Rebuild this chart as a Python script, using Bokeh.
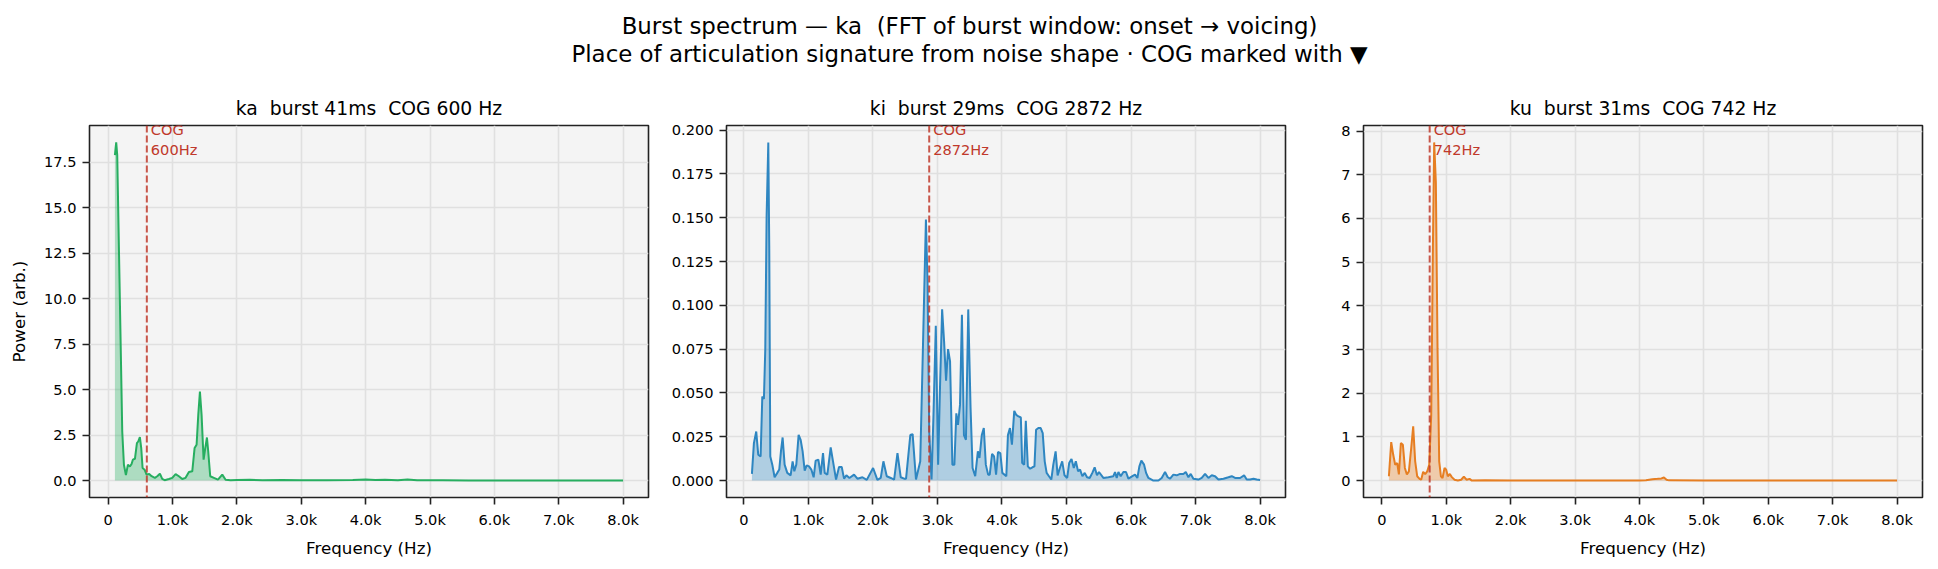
from bokeh.plotting import figure
from bokeh.layouts import column, row
from bokeh.models import Range1d, FixedTicker, PrintfTickFormatter, Span
from bokeh.core.properties import value
from bokeh.embed import file_html
from bokeh.resources import INLINE

# ---------------------------------------------------------------- data
# (no-break spaces keep the double gaps visible in SVG text)
SUPTITLE = [
    "Burst spectrum \u2014 ka\u00a0 (FFT of burst window: onset \u2192 voicing)",
    "Place of articulation signature from noise shape \u00b7 COG marked with \u25bc",
]

SYLLABLES = ["ka", "ki", "ku"]
BURST_MS = [41, 29, 31]
COG_HZ = [600, 2872, 742]

KA_FREQ = [104, 124, 140, 176, 218, 244, 275, 306, 337, 363, 383, 415, 446, 466, 492,
           513, 534, 565, 596, 637, 674, 725, 762, 803, 839, 876, 943, 995, 1047, 1098,
           1150, 1202, 1254, 1306, 1342, 1373, 1399, 1425, 1451, 1482, 1508, 1534, 1554,
           1585, 1642, 1705, 1772, 1824, 1902, 2000, 2200, 2400, 2700, 3000, 3400, 3800,
           4000, 4150, 4300, 4500, 4650, 4800, 5200, 5600, 6000, 6500, 7000, 7500, 8000]
KA_POWER = [17.9, 18.6, 17.9, 10.9, 2.7, 0.87, 0.3, 0.87, 0.78, 0.91, 1.15, 1.2, 2.06, 2.15,
            2.39, 1.79, 0.69, 0.6, 0.33, 0.36, 0.24, 0.15, 0.24, 0.38, 0.09, 0.02, 0.09,
            0.15, 0.36, 0.24, 0.09, 0.15, 0.47, 0.51, 1.79, 1.97, 3.6, 4.89, 3.6, 1.15,
            1.79, 2.37, 1.6, 0.24, 0.15, 0.05, 0.33, 0.05, 0.02, 0.03, 0.04, 0.02, 0.03,
            0.02, 0.02, 0.03, 0.06, 0.03, 0.05, 0.02, 0.06, 0.02, 0.02, 0.01, 0.01, 0.01,
            0.01, 0.01, 0.01]

KI_FREQ = [124, 155, 191, 222, 259, 285, 310, 331, 352, 378, 393, 409, 440, 476, 517, 548,
           574, 600, 631, 672, 724, 755, 781, 812, 848, 879, 910, 942, 973, 1009, 1045,
           1081, 1112, 1154, 1190, 1226, 1252, 1293, 1345, 1381, 1428, 1474, 1516, 1552,
           1588, 1635, 1707, 1759, 1837, 1904, 2002, 2069, 2121, 2162, 2214, 2276, 2328,
           2380, 2431, 2483, 2513, 2579, 2615, 2667, 2733, 2774, 2821, 2846, 2872, 2908,
           2938, 2974, 3010, 3041, 3072, 3103, 3133, 3164, 3195, 3231, 3262, 3292, 3318,
           3349, 3379, 3410, 3441, 3477, 3513, 3544, 3585, 3626, 3651, 3687, 3718, 3749,
           3785, 3810, 3846, 3877, 3908, 3938, 3974, 4005, 4067, 4092, 4123, 4154, 4190,
           4221, 4256, 4292, 4313, 4344, 4369, 4400, 4436, 4472, 4503, 4528, 4564, 4600,
           4631, 4662, 4692, 4728, 4764, 4795, 4831, 4862, 4897, 4933, 4969, 5010, 5041,
           5077, 5113, 5144, 5179, 5210, 5246, 5282, 5318, 5359, 5400, 5436, 5472, 5503,
           5571, 5649, 5726, 5752, 5778, 5804, 5840, 5881, 5922, 5959, 6021, 6062, 6098,
           6129, 6160, 6202, 6233, 6269, 6346, 6424, 6475, 6527, 6568, 6605, 6656, 6708,
           6760, 6811, 6848, 6889, 6925, 6966, 7044, 7096, 7147, 7199, 7251, 7302, 7354,
           7432, 7509, 7561, 7612, 7690, 7752, 7793, 7845, 7897, 7948, 8000]
KI_POWER = [0.0038, 0.0214, 0.028, 0.0148, 0.0138, 0.048, 0.0466, 0.075, 0.151, 0.193,
            0.132, 0.0138, 0.0091, 0.0019, 0.0044, 0.0063, 0.0167, 0.0246, 0.0091, 0.0044,
            0.003, 0.011, 0.0053, 0.0091, 0.0261, 0.0233, 0.0167, 0.0057, 0.0087, 0.0081,
            0.0063, 0.0019, 0.0114, 0.0119, 0.0034, 0.0157, 0.0044, 0.0034, 0.0189, 0.011,
            0.0006, 0.0078, 0.0078, 0.0011, 0.003, 0.0015, 0.0034, 0.0011, 0.0019, 0.0004,
            0.0072, 0.0004, 0.0015, 0.011, 0.0025, 0.0015, 0.0006, 0.0157, 0.0019, 0.0011,
            0.0011, 0.026, 0.0265, 0.0006, 0.011, 0.075, 0.149, 0.113, 0.028, 0.0006,
            0.0375, 0.0883, 0.0091, 0.056, 0.0977, 0.079, 0.057, 0.075, 0.068, 0.0091,
            0.0091, 0.0384, 0.0318, 0.0432, 0.0947, 0.026, 0.0233, 0.0977, 0.0413, 0.0072,
            0.0025, 0.0167, 0.0129, 0.026, 0.03, 0.0091, 0.0034, 0.0034, 0.0153, 0.0138,
            0.0034, 0.0163, 0.0157, 0.0044, 0.0025, 0.026, 0.03, 0.0205, 0.0398, 0.0375,
            0.0366, 0.036, 0.01, 0.0091, 0.0341, 0.0081, 0.0068, 0.0076, 0.0081, 0.029,
            0.03, 0.03, 0.0271, 0.011, 0.0044, 0.0025, 0.0006, 0.0091, 0.0167, 0.003,
            0.0072, 0.011, 0.003, 0.0015, 0.01, 0.0123, 0.0072, 0.011, 0.0053, 0.0063,
            0.0025, 0.0044, 0.0019, 0.0015, 0.0044, 0.0076, 0.003, 0.0049, 0.0015, 0.0019,
            0.0025, 0.0049, 0.0015, 0.0049, 0.0025, 0.0049, 0.0049, 0.0011, 0.0025, 0.0034,
            0.0015, 0.0081, 0.0114, 0.0091, 0.0044, 0.0015, 0.0, 0.0, 0.0015, 0.0049,
            0.0019, 0.0011, 0.0034, 0.003, 0.0038, 0.0038, 0.0049, 0.0019, 0.0038, 0.0011,
            0.0006, 0.0015, 0.0038, 0.0015, 0.003, 0.0025, 0.0006, 0.0011, 0.0019, 0.0025,
            0.0015, 0.0015, 0.003, 0.0006, 0.0006, 0.0011, 0.0006, 0.0003]

KU_FREQ = [109, 145, 176, 207, 238, 264, 295, 326, 357, 388, 419, 455, 486, 517, 548, 585,
           610, 641, 672, 704, 735, 766, 792, 812, 838, 864, 890, 916, 942, 973, 998, 1024,
           1055, 1086, 1128, 1180, 1231, 1273, 1314, 1361, 1397, 1600, 2000, 2500, 3000,
           3500, 4000, 4100, 4200, 4280, 4340, 4380, 4420, 4460, 5000, 6000, 7000, 8000]
KU_POWER = [0.1, 0.88, 0.59, 0.36, 0.40, 0.14, 0.86, 0.82, 0.29, 0.14, 0.21, 0.74, 1.24,
            0.44, 0.1, 0.04, 0.02, 0.2, 0.15, 0.21, 0.36, 1.5, 5.3, 7.74, 6.82, 3.02, 0.44,
            0.1, 0.06, 0.29, 0.25, 0.1, 0.15, 0.08, 0.02, 0.0, 0.02, 0.09, 0.02, 0.04, 0.0,
            0.005, 0.003, 0.003, 0.002, 0.003, 0.004, 0.01, 0.03, 0.04, 0.05, 0.07, 0.02,
            0.005, 0.003, 0.002, 0.002, 0.002]

X_TICKS = [0, 1000, 2000, 3000, 4000, 5000, 6000, 7000, 8000]
X_TICK_LABELS = ["0", "1.0k", "2.0k", "3.0k", "4.0k", "5.0k", "6.0k", "7.0k", "8.0k"]

KA_Y_TICKS = [0, 2.5, 5, 7.5, 10, 12.5, 15, 17.5]
KI_Y_TICKS = [0, 0.025, 0.05, 0.075, 0.1, 0.125, 0.15, 0.175, 0.2]
KU_Y_TICKS = [0, 1, 2, 3, 4, 5, 6, 7, 8]

COLORS = ["#27ae60", "#2e86c1", "#e67e22"]
COG_COLOR = "#c0392b"

# ---------------------------------------------------------------- style
FONT = "DejaVu Sans"
TICK_SIZE = "14.6px"
LABEL_SIZE = "16.7px"
TITLE_SIZE = "18.75px"
SUPTITLE_SIZE = "22.9px"
INK = "#222222"

HEADER_H = 85
FRAME_W, FRAME_H = 559, 372


def padded(lo, hi, frac=0.05):
    span = hi - lo
    return lo - frac * span, hi + frac * span


def panel(freq, power, color, cog, title, y_ticks, y_fmt, ylabel, left, right):
    x0, x1 = padded(min(freq), max(freq))
    y0, y1 = padded(0.0, max(power))
    p = figure(frame_width=FRAME_W, frame_height=FRAME_H,
               min_border_left=left, min_border_right=right,
               min_border_top=40, min_border_bottom=72,
               x_range=Range1d(x0, x1), y_range=Range1d(y0, y1),
               output_backend="svg", toolbar_location=None,
               background_fill_color="#f4f4f4", border_fill_color="white")

    p.title.text = title
    p.title.align = "center"
    p.title.text_font = FONT
    p.title.text_font_size = TITLE_SIZE
    p.title.text_font_style = "normal"
    p.title.text_color = "black"
    p.title.standoff = 13

    p.outline_line_color = INK
    p.outline_line_width = 1.6

    p.grid.grid_line_color = "#e0e0e0"
    p.grid.grid_line_width = 1.6

    p.xaxis.ticker = FixedTicker(ticks=X_TICKS)
    p.xaxis.major_label_overrides = dict(zip(X_TICKS, X_TICK_LABELS))
    p.yaxis.ticker = FixedTicker(ticks=y_ticks)
    p.yaxis.formatter = PrintfTickFormatter(format=y_fmt)

    for ax in (p.xaxis, p.yaxis):
        ax.axis_line_color = None
        ax.minor_tick_line_color = None
        ax.major_tick_in = 0
        ax.major_tick_out = 7
        ax.major_tick_line_color = INK
        ax.major_tick_line_width = 1.6
        ax.major_label_text_font = FONT
        ax.major_label_text_font_size = TICK_SIZE
        ax.major_label_text_color = "black"
        ax.major_label_standoff = 6
        ax.axis_label_text_font = FONT
        ax.axis_label_text_font_size = LABEL_SIZE
        ax.axis_label_text_font_style = "normal"
        ax.axis_label_text_color = "black"

    p.xaxis.axis_label = "Frequency (Hz)"
    p.xaxis.axis_label_standoff = 7
    if ylabel:
        p.yaxis.axis_label = ylabel
        p.yaxis.axis_label_standoff = 12

    # spectrum: filled area under the power curve
    p.varea(x=freq, y1=[0.0] * len(power), y2=power, fill_color=color, fill_alpha=0.35)
    p.line(x=freq, y=power, line_color=color, line_width=2)

    # spectral centre of gravity
    p.add_layout(Span(location=cog, dimension="height", line_color=COG_COLOR,
                      line_dash="7 3", line_width=2, line_alpha=0.85))
    p.text(x=[cog], y=[y1], text=[f"COG\n{cog}Hz"], x_offset=4, y_offset=-5,
           text_baseline="top", text_align="left", text_font=value(FONT),
           text_font_size=TICK_SIZE, text_color=COG_COLOR, text_line_height=1.2)
    return p


# ---------------------------------------------------------------- header
header = figure(width=1938, height=HEADER_H, x_range=Range1d(0, 1938),
                y_range=Range1d(0, HEADER_H), x_axis_type=None, y_axis_type=None,
                min_border=0, output_backend="svg", toolbar_location=None)
header.outline_line_color = None
header.grid.visible = False
header.text(x=[969, 969], y=[HEADER_H - 25, HEADER_H - 53], text=SUPTITLE,
            text_align="center", text_baseline="middle", text_font=value(FONT),
            text_font_size=SUPTITLE_SIZE, text_color="black")

# ---------------------------------------------------------------- panels
freqs = [KA_FREQ, KI_FREQ, KU_FREQ]
powers = [KA_POWER, KI_POWER, KU_POWER]
y_ticks = [KA_Y_TICKS, KI_Y_TICKS, KU_Y_TICKS]
y_fmts = ["%.1f", "%.3f", "%d"]
ylabels = ["Power (arb.)", None, None]
borders = [(89, 12), (66, 15), (63, 16)]

panels = []
for i in range(3):
    title = f"{SYLLABLES[i]}\u00a0 burst {BURST_MS[i]}ms\u00a0 COG {COG_HZ[i]} Hz"
    panels.append(panel(freqs[i], powers[i], COLORS[i], COG_HZ[i], title,
                        y_ticks[i], y_fmts[i], ylabels[i], *borders[i]))

layout = column(header, row(*panels))

with open("out.html", "w") as f:
    f.write(file_html(layout, INLINE))
